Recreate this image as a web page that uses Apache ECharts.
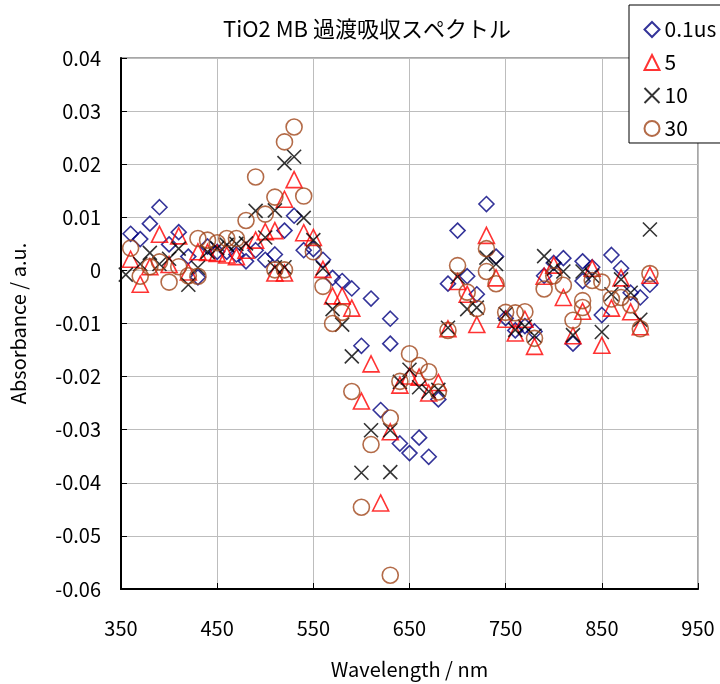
<!DOCTYPE html>
<html>
<head>
<meta charset="utf-8">
<script src="https://cdn.jsdelivr.net/npm/echarts@6/dist/echarts.min.js"></script>
<style>
html,body{margin:0;padding:0;background:#fff;}
#chart{width:720px;height:684px;}
</style>
</head>
<body>
<div id="chart"></div>
<script>
// ---- data ----
const seriesNames = ['0.1us', '5', '10', '30'];

const x01 = [360,370,380,390,400,410,420,430,440,450,460,470,480,490,500,510,520,530,540,550,560,570,580,590,600,610,620,630,630,640,650,660,670,680,690,700,710,720,730,740,750,760,770,780,790,800,810,820,830,830,840,850,860,870,880,890,900];
const y01 = [0.0069,0.0059,0.0088,0.0119,0.0049,0.0072,0.0026,-0.0013,0.0045,0.0035,0.0035,0.0030,0.0017,0.0038,0.0020,0.0030,0.0075,0.0103,0.0038,0.0040,0.0020,-0.0014,-0.0020,-0.0034,-0.0142,-0.0053,-0.0263,-0.0091,-0.0138,-0.0326,-0.0344,-0.0315,-0.0351,-0.0243,-0.0025,0.0075,-0.0011,-0.0045,0.0125,0.0026,-0.0090,-0.0113,-0.0105,-0.0115,-0.0010,0.0014,0.0023,-0.0138,0.0017,-0.0020,0.0006,-0.0084,0.0029,0.0004,-0.0042,-0.0051,-0.0027];

const x5 = [360,370,380,390,400,410,420,430,440,450,460,470,480,490,500,510,510,520,520,530,540,550,560,570,580,590,600,610,620,630,640,650,660,670,680,690,700,710,720,730,740,750,760,770,780,790,800,810,820,830,840,850,860,870,880,890,900];
const y5 = [0.0021,-0.0026,0.0007,0.0068,0.0011,0.0065,-0.0003,0.0035,0.0034,0.0032,0.0029,0.0026,0.0038,0.0057,0.0073,0.0075,-0.0005,0.0134,-0.0005,0.0171,0.0071,0.0062,0.0002,-0.0048,-0.0048,-0.0071,-0.0246,-0.0176,-0.0438,-0.0304,-0.0216,-0.0199,-0.0201,-0.0231,-0.0211,-0.0110,-0.0021,-0.0045,-0.0102,0.0066,-0.0014,-0.0092,-0.0118,-0.0092,-0.0143,-0.0011,0.0010,-0.0051,-0.0123,-0.0077,0.0004,-0.0141,-0.0071,-0.0014,-0.0078,-0.0106,-0.0009];

const x10 = [355,370,380,390,400,410,420,430,440,450,460,470,480,490,500,510,510,520,520,530,540,550,560,570,580,590,600,610,630,630,640,650,660,670,680,690,700,710,720,730,740,750,760,770,780,790,800,810,820,830,840,850,860,870,880,890,900];
const y10 = [-0.0008,0.0012,0.0033,0.0012,0.0022,0.0041,-0.0027,0.0005,0.0035,0.0042,0.0048,0.0050,0.0051,0.0112,0.0062,0.0113,0.0006,0.0202,0.0006,0.0214,0.0099,0.0057,0.0004,-0.0073,-0.0102,-0.0162,-0.0381,-0.0301,-0.0301,-0.0380,-0.0210,-0.0187,-0.0220,-0.0228,-0.0225,-0.0108,-0.0012,-0.0073,-0.0070,0.0024,0.0012,-0.0082,-0.0112,-0.0106,-0.0123,0.0027,0.0003,-0.0002,-0.0122,-0.0002,-0.0010,-0.0116,-0.0045,-0.0017,-0.0042,-0.0093,0.0077];

const x30 = [360,370,380,390,400,410,420,430,430,440,450,460,470,480,490,500,510,510,520,520,530,540,550,560,570,580,590,600,610,630,630,640,650,660,670,680,690,700,710,720,730,730,740,750,760,770,780,790,800,810,820,830,830,840,850,860,870,880,890,900];
const y30 = [0.0042,-0.0011,0.0007,0.0016,-0.0022,0.0007,-0.0010,0.0060,-0.0011,0.0057,0.0052,0.0060,0.0060,0.0094,0.0176,0.0106,0.0138,0.0001,0.0242,0.0001,0.0270,0.0140,0.0035,-0.0030,-0.0100,-0.0079,-0.0228,-0.0446,-0.0328,-0.0574,-0.0278,-0.0209,-0.0157,-0.0179,-0.0191,-0.0229,-0.0113,0.0009,-0.0041,-0.0072,0.0041,-0.0002,-0.0025,-0.0079,-0.0080,-0.0078,-0.0128,-0.0035,-0.0010,-0.0028,-0.0094,-0.0057,-0.0070,-0.0019,-0.0022,-0.0054,-0.0051,-0.0065,-0.0110,-0.0006];

const xTicks = {min: 350, max: 950, interval: 100};
const yTicks = {min: -0.06, max: 0.04, interval: 0.01};

// ---- chart ----
function pairs(xs, ys){ return xs.map((x,i)=>[x, ys[i]]); }
const FONT = '"Noto Sans CJK JP", "Liberation Sans", sans-serif';
const XPATH = 'path://M0,0L10,10M10,0L0,10';

const chart = echarts.init(document.getElementById('chart'), null, {renderer:'canvas'});
const mk = (name, xs, ys, symbol, size, color) => ({
  name, type:'scatter', data: pairs(xs, ys), symbol, symbolSize: size,
  itemStyle:{color:'none', borderColor: color, borderWidth: 1.6},
  emphasis:{disabled:true}, animation:false
});

chart.setOption({
  animation:false,
  backgroundColor:'#fff',
  title:{
    text:'TiO2 MB 過渡吸収スペクトル', left: 362, top: 13, textAlign:'center',
    textStyle:{fontFamily: FONT, fontSize: 22, fontWeight:'normal', color:'#000'}
  },
  legend:{
    orient:'vertical', left: 629, top: 5,
    padding:[14, 10, 4, 13], itemGap: 12, itemWidth: 15, itemHeight: 15,
    borderColor:'#000', borderWidth:1, backgroundColor:'#fff',
    textStyle:{fontFamily: FONT, fontSize: 21, color:'#000'},
    data: seriesNames
  },
  grid:{left:118, right:22, top:58, bottom:87, show:true, borderColor:'#8a8a8a', borderWidth:1.5},
  xAxis:{
    type:'value', min:xTicks.min, max:xTicks.max, interval:xTicks.interval,
    name:'Wavelength / nm', nameLocation:'middle', nameGap: 70,
    nameTextStyle:{fontFamily: FONT, fontSize: 20, color:'#000'},
    axisLine:{show:true, onZero:false, lineStyle:{color:'#000', width:2}},
    axisTick:{show:true, inside:true, length:6, lineStyle:{color:'#000'}},
    axisLabel:{fontFamily: FONT, fontSize: 20, color:'#000', margin: 29},
    splitLine:{show:true, lineStyle:{color:'#bdbdbd', width:1}}
  },
  yAxis:{
    type:'value', min:yTicks.min, max:yTicks.max, interval:yTicks.interval,
    name:'Absorbance / a.u.', nameLocation:'middle', nameGap: 93,
    nameTextStyle:{fontFamily: FONT, fontSize: 20, color:'#000'},
    axisLine:{show:true, onZero:false, lineStyle:{color:'#000', width:2}},
    axisTick:{show:true, inside:true, length:6, lineStyle:{color:'#000'}},
    axisLabel:{fontFamily: FONT, fontSize: 20, color:'#000', margin: 20,
      formatter: v => { const r = Math.round(v*100)/100; return r === 0 ? '0' : r.toFixed(2); }},
    splitLine:{show:true, lineStyle:{color:'#bdbdbd', width:1}}
  },
  series:[
    mk(seriesNames[0], x01, y01, 'diamond', 15, '#000080'),
    mk(seriesNames[1], x5, y5, 'triangle', 16, '#ff0000'),
    mk(seriesNames[2], x10, y10, XPATH, 14, '#000000'),
    mk(seriesNames[3], x30, y30, 'circle', 16, '#a0461a')
  ]
});
</script>
</body>
</html>
